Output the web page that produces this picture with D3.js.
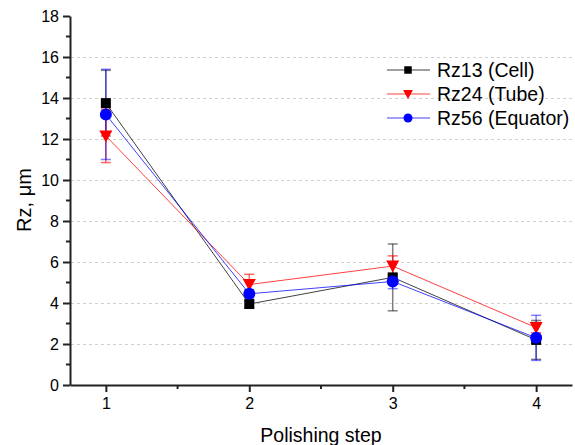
<!DOCTYPE html>
<html>
<head>
<meta charset="utf-8">
<script src="https://cdn.jsdelivr.net/npm/d3@7"></script>
<style>
  body { margin: 0; background: #fff; }
  text { font-family: "Liberation Sans", Arial, sans-serif; fill: #000; }
</style>
</head>
<body>
<svg width="575" height="445"></svg>
<script>
var steps = [1, 2, 3, 4];
var seriesNames = ["Rz13 (Cell)", "Rz24 (Tube)", "Rz56 (Equator)"];
var rz13 = [13.75, 3.95, 5.25, 2.2];
var rz13Err = [1.6, 0.15, 1.63, 0.95];
var rz24 = [12.15, 4.9, 5.8, 2.8];
var rz24Err = [1.3, 0.5, 0.5, 0.25];
var rz56 = [13.2, 4.45, 5.05, 2.3];
var rz56Err = [2.2, 0.2, 0.35, 1.1];
var yTicks = [0, 2, 4, 6, 8, 10, 12, 14, 16, 18];

var svg = d3.select("svg");

var x = d3.scaleLinear().domain([0.75, 4.25]).range([70, 572]),
    y = d3.scaleLinear().domain([0, 18]).range([385, 16]);

var series = [
  {name: seriesNames[0], values: rz13, err: rz13Err, color: "#000000", errColor: "rgba(0,0,0,0.5)", shape: "square"},
  {name: seriesNames[1], values: rz24, err: rz24Err, color: "#ff0000", errColor: "rgba(255,0,0,0.6)", shape: "triangle"},
  {name: seriesNames[2], values: rz56, err: rz56Err, color: "#0000ff", errColor: "rgba(0,0,255,0.5)", shape: "circle"}
];

// gridlines
svg.append("g")
  .selectAll("line")
  .data(yTicks.filter(function(d) { return d > 0 && d < 18; }))
  .enter().append("line")
    .attr("x1", 71).attr("x2", 572)
    .attr("y1", function(d) { return y(d) + 0.5; })
    .attr("y2", function(d) { return y(d) + 0.5; })
    .attr("stroke", "#d0d0d0")
    .attr("stroke-dasharray", "3,3");

// minor ticks
svg.append("g")
  .selectAll("line")
  .data([1, 3, 5, 7, 9, 11, 13, 15, 17])
  .enter().append("line")
    .attr("x1", 66).attr("x2", 70)
    .attr("y1", function(d) { return y(d); })
    .attr("y2", function(d) { return y(d); })
    .attr("stroke", "#222").attr("stroke-width", 2);

svg.append("g")
  .selectAll("line")
  .data([1.5, 2.5, 3.5])
  .enter().append("line")
    .attr("x1", function(d) { return x(d); })
    .attr("x2", function(d) { return x(d); })
    .attr("y1", 385).attr("y2", 389)
    .attr("stroke", "#222").attr("stroke-width", 2);

var yAxis = svg.append("g")
    .attr("transform", "translate(70,0)")
    .call(d3.axisLeft(y).tickValues(yTicks).tickSize(7).tickPadding(4).tickSizeOuter(0));

var xAxis = svg.append("g")
    .attr("transform", "translate(0,385)")
    .call(d3.axisBottom(x).tickValues(steps).tickFormat(d3.format("d")).tickSize(7).tickPadding(6).tickSizeOuter(0));

[yAxis, xAxis].forEach(function(a) {
  a.select(".domain").attr("stroke", "#222").attr("stroke-width", 2);
  a.selectAll(".tick line").attr("stroke", "#222").attr("stroke-width", 2);
  a.selectAll(".tick text").style("font-size", "16px").attr("fill", "#000");
});

// error bars
series.forEach(function(s) {
  var eb = svg.append("g");
  s.values.forEach(function(v, i) {
    var cx = x(steps[i]), lo = y(v - s.err[i]), hi = y(v + s.err[i]);
    eb.append("line").attr("x1", cx).attr("x2", cx).attr("y1", lo).attr("y2", hi)
      .attr("stroke", s.errColor).attr("stroke-width", 1.5);
    [lo, hi].forEach(function(yy) {
      eb.append("line").attr("x1", cx - 5).attr("x2", cx + 5).attr("y1", yy).attr("y2", yy)
        .attr("stroke", s.errColor).attr("stroke-width", 1.5);
    });
  });
});

var line = d3.line()
    .x(function(d, i) { return x(steps[i]); })
    .y(function(d) { return y(d); });

series.forEach(function(s) {
  svg.append("path")
    .attr("d", line(s.values))
    .attr("fill", "none")
    .attr("stroke", s.color)
    .attr("stroke-opacity", 0.75)
    .attr("stroke-width", 1);
});

function marker(g, shape, color, cx, cy, scale) {
  scale = scale || 1;
  if (shape === "square") {
    g.append("rect").attr("x", cx - 5 * scale).attr("y", cy - 5 * scale)
      .attr("width", 10 * scale).attr("height", 10 * scale).attr("fill", color);
  } else if (shape === "triangle") {
    var w = 6.5 * scale;
    g.append("path")
      .attr("d", "M" + (cx - w) + "," + (cy - 5.5 * scale) + "L" + (cx + w) + "," + (cy - 5.5 * scale) + "L" + cx + "," + (cy + 6.5 * scale) + "Z")
      .attr("fill", color);
  } else {
    g.append("circle").attr("cx", cx).attr("cy", cy).attr("r", 6 * scale).attr("fill", color);
  }
}

series.forEach(function(s) {
  var g = svg.append("g");
  s.values.forEach(function(v, i) {
    marker(g, s.shape, s.color, x(steps[i]), y(v));
  });
});

// legend
var legend = svg.append("g");
series.forEach(function(s, i) {
  var ly = 70 + i * 24;
  legend.append("line").attr("x1", 387).attr("x2", 430).attr("y1", ly).attr("y2", ly)
    .attr("stroke", s.color).attr("stroke-opacity", 0.75);
  marker(legend, s.shape, s.color, 408, ly, 0.75);
  legend.append("text").attr("x", 437).attr("y", ly).attr("dy", "0.36em")
    .style("font-size", "19.5px").text(s.name);
});

svg.append("text")
  .attr("transform", "translate(31,200) rotate(-90)")
  .attr("text-anchor", "middle")
  .style("font-size", "20px")
  .text("Rz, μm");

svg.append("text")
  .attr("x", 321).attr("y", 442)
  .attr("text-anchor", "middle")
  .style("font-size", "19.5px")
  .text("Polishing step");
</script>
</body>
</html>
